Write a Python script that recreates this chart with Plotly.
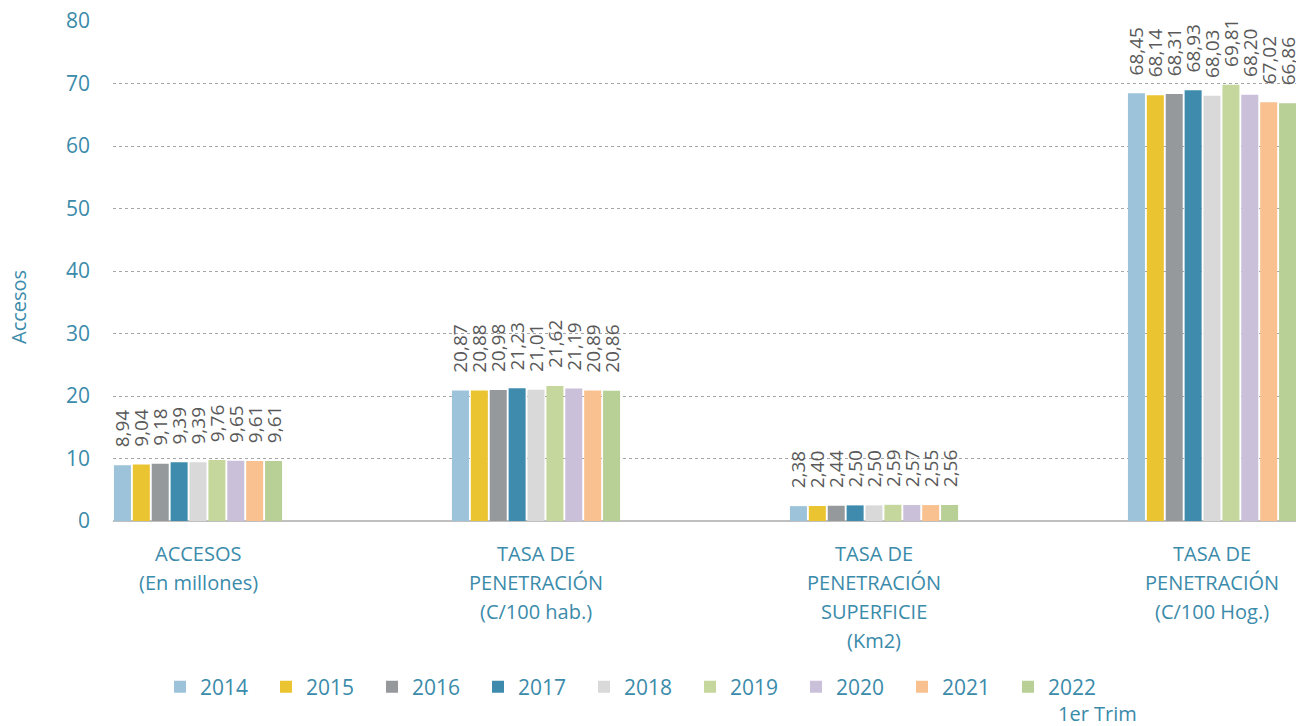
import plotly.graph_objects as go

categories = [
    ["ACCESOS", "(En millones)"],
    ["TASA DE", "PENETRACIÓN", "(C/100 hab.)"],
    ["TASA DE", "PENETRACIÓN", "SUPERFICIE", "(Km2)"],
    ["TASA DE", "PENETRACIÓN", "(C/100 Hog.)"],
]
years = ["2014", "2015", "2016", "2017", "2018", "2019", "2020", "2021", "2022"]
values = {
    "2014": [8.94, 20.87, 2.38, 68.45],
    "2015": [9.04, 20.88, 2.40, 68.14],
    "2016": [9.18, 20.98, 2.44, 68.31],
    "2017": [9.39, 21.23, 2.50, 68.93],
    "2018": [9.39, 21.01, 2.50, 68.03],
    "2019": [9.76, 21.62, 2.59, 69.81],
    "2020": [9.65, 21.19, 2.57, 68.20],
    "2021": [9.61, 20.89, 2.55, 67.02],
    "2022": [9.61, 20.86, 2.56, 66.86],
}
colors = ["#9DC3DB", "#EBC431", "#96999C", "#3E8BAD", "#D9D9D9",
          "#C5D79C", "#CBC0DA", "#F9C190", "#B8CF95"]
y_ticks = [0, 10, 20, 30, 40, 50, 60, 70, 80]

TEAL = "#3B8BAA"
FONT = "Open Sans"

xs = list(range(len(categories)))
fig = go.Figure()
for yr, col in zip(years, colors):
    vals = values[yr]
    fig.add_trace(go.Bar(
        x=xs, y=vals, name=yr, marker_color=col,
        marker_line_width=0,
        text=["\u00a0\u00a0\u00a0" + f"{v:.2f}".replace(".", ",") for v in vals],
        textposition="outside", textangle=-90, constraintext="none",
        textfont=dict(family=FONT, size=19, color="#595959"),
        cliponaxis=False,
    ))

annotations = []
for i, lines in enumerate(categories):
    for j, line in enumerate(lines):
        annotations.append(dict(
            x=i, y=0, xref="x", yref="y", text=line, showarrow=False,
            yanchor="middle", yshift=-32 - 29 * j,
            font=dict(family=FONT, size=20, color=TEAL)))
annotations.append(dict(
    x=18, y=307, xref="paper", yref="paper", text="Accesos", showarrow=False,
    textangle=-90, font=dict(family=FONT, size=20, color=TEAL)))
annotations.append(dict(
    x=1097, y=713, xref="paper", yref="paper", text="1er Trim", showarrow=False,
    font=dict(family=FONT, size=20, color=TEAL)))

# convert pixel positions for paper annotations
W, H = 1296, 726
ml, mr, mt, mb = 113, 0, 21, 205
pw, ph = W - ml - mr, H - mt - mb
for a in annotations:
    if a["xref"] == "paper":
        a["x"] = (a["x"] - ml) / pw
        a["y"] = (H - mb - a["y"]) / ph
        a["xanchor"] = "center"
        a["yanchor"] = "middle"

fig.update_layout(
    width=W, height=H,
    margin=dict(l=ml, r=mr, t=mt, b=mb),
    paper_bgcolor="white", plot_bgcolor="white",
    barmode="group", bargap=0.497, bargroupgap=0.1,
    showlegend=True,
    legend=dict(orientation="h", x=(160 - ml) / pw, xanchor="left",
                y=(H - mb - 687) / ph, yanchor="middle",
                entrywidth=61, traceorder="normal",
                font=dict(family=FONT, size=21, color=TEAL)),
    annotations=annotations,
    xaxis=dict(range=[-0.2515, 3.2485], showticklabels=False, showgrid=False,
               zeroline=False, showline=False, ticks=""),
    yaxis=dict(range=[0, 80], tickvals=y_ticks, showgrid=True,
               gridcolor="#A6A6A6", griddash="dot", gridwidth=1,
               zeroline=True, zerolinecolor="#BFBFBF", zerolinewidth=2,
               tickfont=dict(family=FONT, size=21, color=TEAL),
               ticks="", ticklabelstandoff=22),
)
fig.write_html("out.html")
